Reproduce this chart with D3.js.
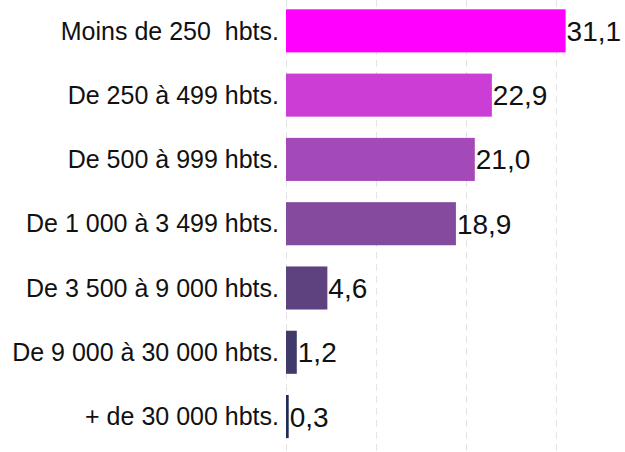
<!DOCTYPE html>
<html lang="fr">
<head>
<meta charset="UTF-8">
<title>Communes par taille</title>
<script src="https://cdn.jsdelivr.net/npm/d3@7"></script>
<style>
  body { margin: 0; background: #fff; }
  svg { display: block; font-family: "Liberation Sans", Arial, sans-serif; }
</style>
</head>
<body>
<div id="chart"></div>
<script>
  const categories = ['Moins de 250  hbts.', 'De 250 à 499 hbts.', 'De 500 à 999 hbts.', 'De 1 000 à 3 499 hbts.',
    'De 3 500 à 9 000 hbts.', 'De 9 000 à 30 000 hbts.', '+ de 30 000 hbts.']
  const values = [31.1, 22.9, 21.0, 18.9, 4.6, 1.2, 0.3]
  const colors = ['#ff00ff', '#cc3dd6', '#a449b8', '#844a9d', '#5e417f', '#3f3a6a', '#1e2d58']
  const gridTicks = [0, 10, 20, 30]

  const width = 625
  const height = 452
  const x0 = 286

  const svg = d3.select('#chart').append('svg')
    .attr('width', width)
    .attr('height', height)

  const xScale = d3.scaleLinear().domain([0, 10]).range([x0, x0 + 89.9])
  const yScale = d3.scaleBand().domain(categories).range([-1.3, 448.7])
    .paddingInner(0.33).paddingOuter(0.165)

  // dashed vertical gridlines
  svg.append('g').selectAll('line')
    .data(gridTicks)
    .enter().append('line')
    .attr('x1', d => Math.round(xScale(d)) + 0.5)
    .attr('x2', d => Math.round(xScale(d)) + 0.5)
    .attr('y1', 0)
    .attr('y2', height)
    .attr('stroke', '#e4e4e4')
    .attr('stroke-width', 1)
    .attr('stroke-dasharray', '7,5')

  svg.append('g').selectAll('rect')
    .data(values)
    .enter().append('rect')
    .attr('x', xScale(0))
    .attr('y', (d, i) => yScale(categories[i]))
    .attr('width', d => xScale(d) - xScale(0))
    .attr('height', yScale.bandwidth())
    .attr('fill', (d, i) => colors[i])

  // category labels
  svg.append('g').selectAll('text')
    .data(categories)
    .enter().append('text')
    .attr('x', x0 - 7)
    .attr('y', d => yScale(d) + yScale.bandwidth() / 2)
    .attr('dy', '0.35em')
    .attr('text-anchor', 'end')
    .attr('font-size', 25)
    .attr('fill', '#111')
    .style('white-space', 'pre')
    .text(d => d)

  // value labels
  svg.append('g').selectAll('text')
    .data(values)
    .enter().append('text')
    .attr('x', d => xScale(d) + 1)
    .attr('y', (d, i) => yScale(categories[i]) + yScale.bandwidth() / 2)
    .attr('dy', '0.36em')
    .attr('font-size', 28)
    .attr('fill', '#111')
    .text(d => d.toFixed(1).replace('.', ','))
</script>
</body>
</html>
